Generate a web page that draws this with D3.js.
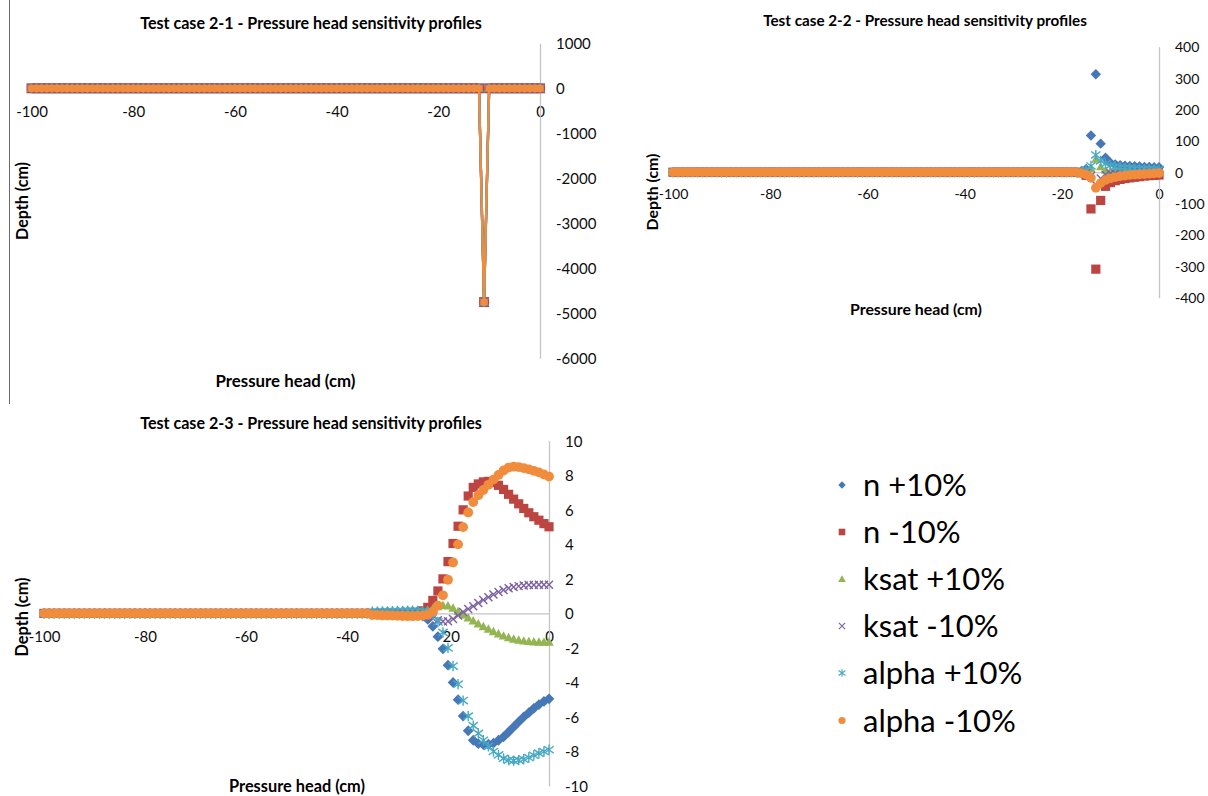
<!DOCTYPE html>
<html><head><meta charset="utf-8">
<script src="https://cdn.jsdelivr.net/npm/d3@7"></script>
<style>
body{margin:0;background:#fff;}
svg{display:block;}
</style>
</head><body>
<svg id="chart" width="1208" height="796"></svg>
<script>
// ---------------- DATA ----------------
const depth = [
 -100,-99,-98,-97,-96,-95,-94,-93,-92,-91,
 -90,-89,-88,-87,-86,-85,-84,-83,-82,-81,
 -80,-79,-78,-77,-76,-75,-74,-73,-72,-71,
 -70,-69,-68,-67,-66,-65,-64,-63,-62,-61,
 -60,-59,-58,-57,-56,-55,-54,-53,-52,-51,
 -50,-49,-48,-47,-46,-45,-44,-43,-42,-41,
 -40,-39,-38,-37,-36,-35,-34,-33,-32,-31,
 -30,-29,-28,-27,-26,-25,-24,-23,-22,-21,
 -20,-19,-18,-17,-16,-15,-14,-13,-12,-11,
 -10,-9,-8,-7,-6,-5,-4,-3,-2,-1,
 0];

const seriesNames = ["n +10%", "n -10%", "ksat +10%", "ksat -10%", "alpha +10%", "alpha -10%"];
const xTicks = [-100, -80, -60, -40, -20, 0];
const case1YTicks = [1000, 0, -1000, -2000, -3000, -4000, -5000, -6000];
const case2YTicks = [400, 300, 200, 100, 0, -100, -200, -300, -400];
const case3YTicks = [10, 8, 6, 4, 2, 0, -2, -4, -6, -8, -10];
const titles = ["Test case 2-1 - Pressure head sensitivity profiles",
                "Test case 2-2 - Pressure head sensitivity profiles",
                "Test case 2-3 - Pressure head sensitivity profiles"];
const xTitle = "Pressure head (cm)";
const yTitle = "Depth (cm)";

// Test case 2-1: all six series coincide (0 everywhere, spike at -11 cm)
const case1All = [
 0,0,0,0,0,0,0,0,0,0,
 0,0,0,0,0,0,0,0,0,0,
 0,0,0,0,0,0,0,0,0,0,
 0,0,0,0,0,0,0,0,0,0,
 0,0,0,0,0,0,0,0,0,0,
 0,0,0,0,0,0,0,0,0,0,
 0,0,0,0,0,0,0,0,0,0,
 0,0,0,0,0,0,0,0,0,0,
 0,0,0,0,0,0,0,0,0,-4750,
 0,0,0,0,0,0,0,0,0,0,
 0];

// Test case 2-2 (depth -100..-21 zero, then -20..0)
const case2NPlus = [
 0,0,0,0,0,0,0,0,0,0, 0,0,0,0,0,0,0,0,0,0, 0,0,0,0,0,0,0,0,0,0, 0,0,0,0,0,0,0,0,0,0,
 0,0,0,0,0,0,0,0,0,0, 0,0,0,0,0,0,0,0,0,0, 0,0,0,0,0,0,0,0,0,0, 0,0,0,0,0,0,0,0,0,0,
 0,0,0,0,2,10,117,312,91,46, 30,25,22,21,20,19,18,17,17,16, 16];
const case2NMinus = [
 0,0,0,0,0,0,0,0,0,0, 0,0,0,0,0,0,0,0,0,0, 0,0,0,0,0,0,0,0,0,0, 0,0,0,0,0,0,0,0,0,0,
 0,0,0,0,0,0,0,0,0,0, 0,0,0,0,0,0,0,0,0,0, 0,0,0,0,0,0,0,0,0,0, 0,0,0,0,0,0,0,0,0,0,
 0,0,0,0,-2,-10,-117,-309,-90,-45, -33,-27,-23,-20,-18,-16,-14,-12,-11,-10, -9];
const case2KsatPlus = [
 0,0,0,0,0,0,0,0,0,0, 0,0,0,0,0,0,0,0,0,0, 0,0,0,0,0,0,0,0,0,0, 0,0,0,0,0,0,0,0,0,0,
 0,0,0,0,0,0,0,0,0,0, 0,0,0,0,0,0,0,0,0,0, 0,0,0,0,0,0,0,0,0,0, 0,0,0,0,0,0,0,0,0,0,
 0,0,0,0,0,3,12,42,18,7, 4,3,2,2,1,1,1,1,1,1, 1];
const case2KsatMinus = [
 0,0,0,0,0,0,0,0,0,0, 0,0,0,0,0,0,0,0,0,0, 0,0,0,0,0,0,0,0,0,0, 0,0,0,0,0,0,0,0,0,0,
 0,0,0,0,0,0,0,0,0,0, 0,0,0,0,0,0,0,0,0,0, 0,0,0,0,0,0,0,0,0,0, 0,0,0,0,0,0,0,0,0,0,
 0,0,0,0,0,-3,-12,-40,-20,-8, -4,-3,-2,-2,-1,-1,-1,-1,-1,-1, -1];
const case2AlphaPlus = [
 0,0,0,0,0,0,0,0,0,0, 0,0,0,0,0,0,0,0,0,0, 0,0,0,0,0,0,0,0,0,0, 0,0,0,0,0,0,0,0,0,0,
 0,0,0,0,0,0,0,0,0,0, 0,0,0,0,0,0,0,0,0,0, 0,0,0,0,0,0,0,0,0,0, 0,0,0,0,0,0,0,0,0,0,
 0,0,0,0,3,8,20,55,36,27, 22,18,16,14,13,12,11,10,10,9, 9];
const case2AlphaMinus = [
 0,0,0,0,0,0,0,0,0,0, 0,0,0,0,0,0,0,0,0,0, 0,0,0,0,0,0,0,0,0,0, 0,0,0,0,0,0,0,0,0,0,
 0,0,0,0,0,0,0,0,0,0, 0,0,0,0,0,0,0,0,0,0, 0,0,0,0,0,0,0,0,0,0, 0,0,0,0,0,0,0,0,0,0,
 0,0,0,0,-3,-8,-18,-50,-35,-25, -20,-16,-13,-11,-9,-8,-7,-6,-5,-4, -3];

// Test case 2-3 (depth -100..-36 zero, then -35..0)
const case3NPlus = [
 0,0,0,0,0,0,0,0,0,0, 0,0,0,0,0,0,0,0,0,0, 0,0,0,0,0,0,0,0,0,0,
 0,0,0,0,0,0,0,0,0,0, 0,0,0,0,0,0,0,0,0,0, 0,0,0,0,0,0,0,0,0,0, 0,0,0,0,0,
 0,0,0,0,0,0,0,-0.02,-0.03,-0.06,-0.15,-0.35,-0.75,-1.35,-2.05,-3.0,-4.0,-5.0,
 -5.95,-6.8,-7.35,-7.55,-7.6,-7.58,-7.52,-7.35,-7.15,-6.87,-6.58,-6.28,-6.0,-5.75,-5.5,-5.28,-5.1,-4.95];
const case3NMinus = [
 0,0,0,0,0,0,0,0,0,0, 0,0,0,0,0,0,0,0,0,0, 0,0,0,0,0,0,0,0,0,0,
 0,0,0,0,0,0,0,0,0,0, 0,0,0,0,0,0,0,0,0,0, 0,0,0,0,0,0,0,0,0,0, 0,0,0,0,0,
 0,0,0,0,0,0,0,0.02,0.03,0.06,0.15,0.35,0.75,1.3,2.0,3.0,4.05,5.05,
 6.0,6.8,7.3,7.5,7.62,7.65,7.58,7.42,7.18,6.9,6.62,6.35,6.08,5.83,5.6,5.4,5.2,5.02];
const case3KsatPlus = [
 0,0,0,0,0,0,0,0,0,0, 0,0,0,0,0,0,0,0,0,0, 0,0,0,0,0,0,0,0,0,0,
 0,0,0,0,0,0,0,0,0,0, 0,0,0,0,0,0,0,0,0,0, 0,0,0,0,0,0,0,0,0,0, 0,0,0,0,0,
 0,0,0,0,0,0,0,0,0.02,0.05,0.1,0.18,0.28,0.4,0.47,0.45,0.32,0.12,
 -0.08,-0.25,-0.42,-0.6,-0.76,-0.9,-1.05,-1.18,-1.3,-1.4,-1.48,-1.54,-1.59,-1.62,-1.64,-1.65,-1.66,-1.66];
const case3KsatMinus = [
 0,0,0,0,0,0,0,0,0,0, 0,0,0,0,0,0,0,0,0,0, 0,0,0,0,0,0,0,0,0,0,
 0,0,0,0,0,0,0,0,0,0, 0,0,0,0,0,0,0,0,0,0, 0,0,0,0,0,0,0,0,0,0, 0,0,0,0,0,
 0,0,0,0,0,0,0,0,-0.02,-0.05,-0.1,-0.18,-0.28,-0.4,-0.47,-0.45,-0.32,-0.12,
 0.08,0.25,0.42,0.6,0.78,0.94,1.1,1.24,1.36,1.46,1.53,1.58,1.62,1.64,1.65,1.66,1.66,1.66];
const case3AlphaPlus = [
 0,0,0,0,0,0,0,0,0,0, 0,0,0,0,0,0,0,0,0,0, 0,0,0,0,0,0,0,0,0,0,
 0,0,0,0,0,0,0,0,0,0, 0,0,0,0,0,0,0,0,0,0, 0,0,0,0,0,0,0,0,0,0, 0,0,0,0,0,
 0.1,0.1,0.12,0.12,0.13,0.14,0.15,0.16,0.16,0.15,0.13,0.08,
 -0.1,-0.5,-1.1,-2.0,-3.05,-4.1,-5.05,-5.95,-6.5,-6.95,-7.35,-7.7,-8.0,-8.2,-8.4,-8.5,-8.53,-8.5,-8.45,-8.35,-8.22,-8.1,-8.0,-7.9];
const case3AlphaMinus = [
 0,0,0,0,0,0,0,0,0,0, 0,0,0,0,0,0,0,0,0,0, 0,0,0,0,0,0,0,0,0,0,
 0,0,0,0,0,0,0,0,0,0, 0,0,0,0,0,0,0,0,0,0, 0,0,0,0,0,0,0,0,0,0, 0,0,0,0,0,
 -0.1,-0.1,-0.12,-0.12,-0.13,-0.14,-0.15,-0.16,-0.16,-0.15,-0.13,-0.08,
 0.1,0.45,1.05,1.95,2.95,4.0,5.0,5.85,6.45,6.85,7.15,7.45,7.75,8.02,8.28,8.45,8.5,8.48,8.42,8.35,8.26,8.17,8.05,7.93];

// ---------------- STYLE ----------------
const FONT = "Lato, 'Open Sans', 'DejaVu Sans', sans-serif";
const colors = ["#4677b6", "#bc4542", "#93b552", "#7c61a0", "#47a9c4", "#f08c3c"];
const shapes = ["diamond", "square", "triangle", "x", "asterisk", "circle"];
const axisColor = "#c4c4c4";

const panels = [
  { series: [case1All, case1All, case1All, case1All, case1All, case1All], yTicks: case1YTicks,
    xr: [31.5, 540], yr: [43.3, 358.3], xLabY: 112, yLabX: 556, fs: 15, lines: true,
    msize: [4.6, 5.0, 4.6, 3.8, 4.4, 3.9],
    title: { cx: 311, cy: 23, w: 342 }, xt: { cx: 285.5, cy: 381, w: 140 }, yt: { cx: 22.5, cy: 201, w: 78 } },
  { series: [case2NPlus, case2NMinus, case2KsatPlus, case2KsatMinus, case2AlphaPlus, case2AlphaMinus], yTicks: case2YTicks,
    xr: [673, 1159], yr: [46.7, 297.7], xLabY: 194, yLabX: 1175, fs: 14, lines: false,
    msize: [5.2, 4.6, 4.6, 3.9, 4.6, 4.8],
    title: { cx: 925, cy: 21, w: 324 }, xt: { cx: 916, cy: 309, w: 132 }, yt: { cx: 652.5, cy: 192, w: 77 } },
  { series: [case3NPlus, case3NMinus, case3KsatPlus, case3KsatMinus, case3AlphaPlus, case3AlphaMinus], yTicks: case3YTicks,
    xr: [44, 549], yr: [440.8, 786], xLabY: 636.5, yLabX: 565, fs: 15, lines: false,
    msize: [5.4, 4.6, 4.7, 4.0, 4.7, 4.9],
    title: { cx: 311, cy: 423, w: 342 }, xt: { cx: 297, cy: 786, w: 136 }, yt: { cx: 22.5, cy: 617, w: 79 } }
];

panels.forEach(p => p.series.forEach(s => { if (s.length !== depth.length) throw new Error("length " + s.length); }));

function markerPath(shape, h) {
  switch (shape) {
    case "diamond": return `M0,${-h}L${h},0L0,${h}L${-h},0Z`;
    case "square": return `M${-h},${-h}H${h}V${h}H${-h}Z`;
    case "triangle": return `M0,${-h}L${h},${h * 0.8}L${-h},${h * 0.8}Z`;
    case "x": return `M${-h},${-h}L${h},${h}M${h},${-h}L${-h},${h}`;
    case "asterisk": return `M${-h},${-h * 0.75}L${h},${h * 0.75}M${h},${-h * 0.75}L${-h},${h * 0.75}M0,${-h * 1.1}V${h * 1.1}`;
    case "circle": return d3.symbol(d3.symbolCircle, Math.PI * h * h)();
  }
}
const stroked = s => s === "x" || s === "asterisk";

const svg = d3.select("#chart");
svg.append("rect").attr("width", 1208).attr("height", 796).attr("fill", "#fff");

// left frame edge of the first chart
svg.append("line").attr("x1", 9.5).attr("x2", 9.5).attr("y1", 0).attr("y2", 404)
  .attr("stroke", "#6a6a6a").attr("stroke-width", 1);

function fitText(sel, w) {
  const len = sel.node().getComputedTextLength();
  const fs = parseFloat(sel.attr("font-size")) * w / len;
  sel.attr("font-size", fs);
  return fs;
}

function centeredBold(txt, c, rotate) {
  const t = svg.append("text").attr("font-family", FONT).attr("font-weight", "bold")
    .attr("font-size", 15).attr("fill", "#000").attr("text-anchor", "middle").text(txt);
  const fs = fitText(t, c.w);
  if (rotate) {
    t.attr("transform", `translate(${c.cx + 0.36 * fs},${c.cy}) rotate(-90)`);
  } else {
    t.attr("x", c.cx).attr("y", c.cy + 0.36 * fs);
  }
}

panels.forEach((p, pi) => {
  const x = d3.scaleLinear().domain([-100, 0]).range(p.xr);
  const y = d3.scaleLinear().domain([p.yTicks[0], p.yTicks[p.yTicks.length - 1]]).range(p.yr);
  const g = svg.append("g");

  // x axis (horizontal line at 0)
  const gx = g.append("g").attr("transform", `translate(0,${y(0)})`)
    .call(d3.axisBottom(x).tickValues(xTicks).tickSize(0).tickSizeOuter(0).tickFormat(d => String(d)));
  gx.select(".domain").attr("stroke", axisColor).attr("stroke-width", 1.3);
  gx.selectAll("text").attr("dy", null).attr("y", p.xLabY - y(0) + 0.36 * p.fs)
    .attr("font-family", FONT).attr("font-size", p.fs).attr("fill", "#0d0d0d");
  gx.attr("font-family", null).attr("font-size", null);

  // y axis (vertical line at 0, labels on the right)
  const gy = g.append("g").attr("transform", `translate(${x(0)},0)`)
    .call(d3.axisRight(y).tickValues(p.yTicks).tickSize(0).tickSizeOuter(0).tickFormat(d => String(d)));
  gy.select(".domain").attr("stroke", axisColor).attr("stroke-width", 1.3);
  gy.selectAll("text").attr("dy", null).attr("x", p.yLabX - x(0))
    .attr("y", 0.36 * p.fs).attr("font-family", FONT).attr("font-size", p.fs).attr("fill", "#0d0d0d")
    .attr("text-anchor", "start");
  gy.attr("font-family", null).attr("font-size", null);

  // series
  p.series.forEach((vals, si) => {
    const pts = depth.map((d, k) => [d, vals[k]]);
    const sg = g.append("g");
    if (p.lines) {
      sg.append("path").attr("d", d3.line().x(d => x(d[0])).y(d => y(d[1]))(pts))
        .attr("fill", "none").attr("stroke", colors[si]).attr("stroke-width", 2.3);
    }
    const mp = markerPath(shapes[si], p.msize[si]);
    sg.selectAll("path.m").data(pts).join("path").attr("class", "m")
      .attr("transform", d => `translate(${x(d[0])},${y(d[1])})`)
      .attr("d", mp)
      .attr("fill", stroked(shapes[si]) ? "none" : colors[si])
      .attr("stroke", stroked(shapes[si]) ? colors[si] : "none")
      .attr("stroke-width", stroked(shapes[si]) ? 1.4 : 0);
  });

  centeredBold(titles[pi], p.title, false);
  centeredBold(xTitle, p.xt, false);
  centeredBold(yTitle, p.yt, true);
});

// ---------------- LEGEND ----------------
const legendY = [485, 532, 579, 626, 673, 720.5];
const legendMsize = [3.7, 3.3, 3.8, 3.1, 3.4, 3.6];
const lg = svg.append("g");
const items = lg.selectAll("g").data(seriesNames).join("g")
  .attr("transform", (d, i) => `translate(842,${legendY[i]})`);
items.append("path")
  .attr("d", (d, i) => markerPath(shapes[i], legendMsize[i]))
  .attr("fill", (d, i) => stroked(shapes[i]) ? "none" : colors[i])
  .attr("stroke", (d, i) => stroked(shapes[i]) ? colors[i] : "none")
  .attr("stroke-width", 1.1);
const lt = items.append("text").attr("x", 21).attr("font-family", FONT)
  .attr("font-size", 31).attr("fill", "#000").text(d => d);
// size legend text so that "alpha -10%" spans about 153px
const refLen = lt.filter((d, i) => i === 5).node().getComputedTextLength();
const lfs = 31 * 153 / refLen;
lt.attr("font-size", lfs).attr("y", 0.36 * lfs);
</script>
</body></html>
